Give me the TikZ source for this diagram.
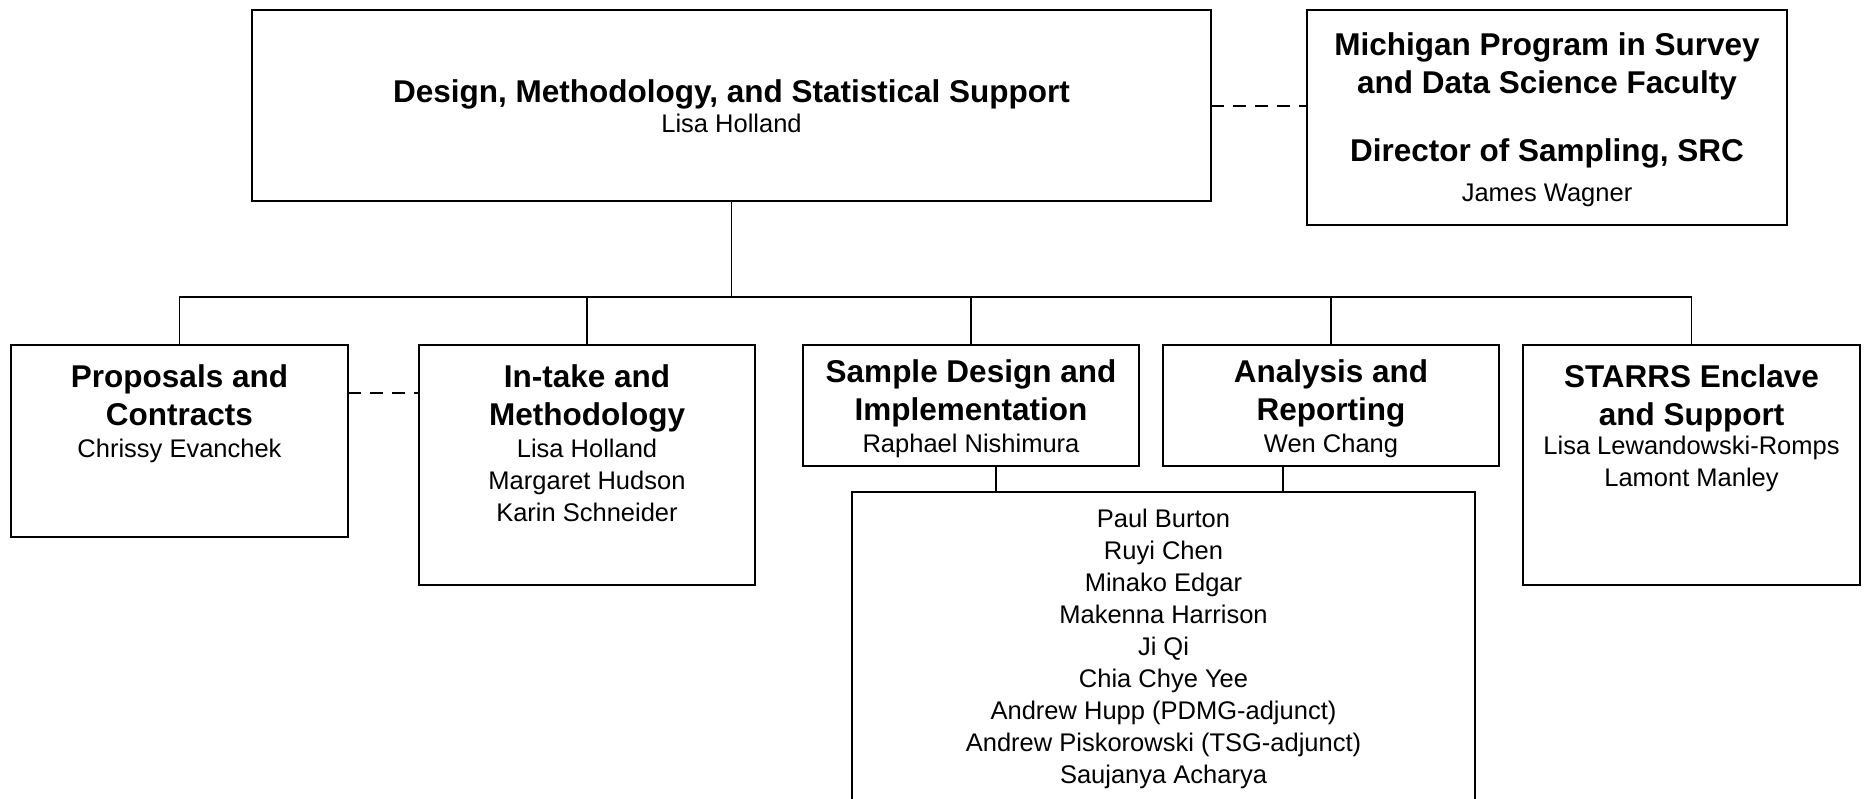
\documentclass[tikz,border=0pt]{standalone}
\usepackage{fontspec}
\setmainfont{Liberation Sans}
\begin{document}
\begin{tikzpicture}[x=1pt,y=-1pt,
  box/.style={draw, line width=1.8pt, inner sep=0pt, outer sep=0pt},
  conn/.style={line width=1.3pt},
  dashconn/.style={line width=1.3pt, dash pattern=on 13pt off 9pt},
  ttl/.style={font=\fontsize{31.5}{38}\selectfont\bfseries, align=center, inner sep=0pt, anchor=north},
  nm/.style={font=\fontsize{25.5}{32}\selectfont, align=center, inner sep=0pt, anchor=north}]
\useasboundingbox (0,0) rectangle (1866,798);
\clip (0,0) rectangle (1866,798);

% boxes
\node[box, minimum width=959pt, minimum height=191pt] (top) at (731.5,105.5) {};
\node[box, minimum width=480pt, minimum height=215pt] (right) at (1547,117.5) {};
\node[box, minimum width=337pt, minimum height=192pt] (b1) at (179.5,441) {};
\node[box, minimum width=336pt, minimum height=240pt] (b2) at (587,465) {};
\node[box, minimum width=336pt, minimum height=121pt] (b3) at (971,405.5) {};
\node[box, minimum width=336pt, minimum height=121pt] (b4) at (1331,405.5) {};
\node[box, minimum width=337pt, minimum height=240pt] (b5) at (1691.5,465) {};
\node[box, minimum width=623pt, minimum height=348pt] (bottom) at (1163.5,666) {};

% texts
\node[ttl] (topT) at (731.5,79) {Design, Methodology, and Statistical Support};
\node[nm] (topN) at (731.5,114) {Lisa Holland};

\node[ttl] (rightT) at (1547,32) {Michigan Program in Survey\\and Data Science Faculty};
\node[ttl] (rightT2) at (1547,138) {Director of Sampling, SRC};
\node[nm] (rightN) at (1547,184) {James Wagner};

\node[ttl] (b1T) at (179.5,364) {Proposals and\\Contracts};
\node[nm] (b1N) at (179.5,439) {Chrissy Evanchek};

\node[ttl] (b2T) at (587,364) {In-take and\\Methodology};
\node[nm] (b2N) at (587,439) {Lisa Holland\\Margaret Hudson\\Karin Schneider};

\node[ttl] (b3T) at (971,359) {Sample Design and\\Implementation};
\node[nm] (b3N) at (971,434) {Raphael Nishimura};

\node[ttl] (b4T) at (1331,359) {Analysis and\\Reporting};
\node[nm] (b4N) at (1331,434) {Wen Chang};

\node[ttl] (b5T) at (1691.5,364) {STARRS Enclave\\and Support};
\node[nm] (b5N) at (1691.5,436) {Lisa Lewandowski-Romps\\Lamont Manley};

\node[nm] (botN) at (1163.5,509) {Paul Burton\\Ruyi Chen\\Minako Edgar\\Makenna Harrison\\Ji Qi\\Chia Chye Yee\\Andrew Hupp (PDMG-adjunct)\\Andrew Piskorowski (TSG-adjunct)\\Saujanya Acharya};

% connectors
\coordinate (j) at (731.5,297);
\draw[conn] (top.south) -- (j);
\draw[conn] (b1.north) |- (j);
\draw[conn] (b2.north) |- (j);
\draw[conn] (b3.north) |- (j);
\draw[conn] (b4.north) |- (j);
\draw[conn] (b5.north) |- (j);

\coordinate (c3) at ([xshift=25pt]b3.south);
\coordinate (c4) at ([xshift=-48pt]b4.south);
\draw[conn] (c3) -- (c3 |- bottom.north);
\draw[conn] (c4) -- (c4 |- bottom.north);

\coordinate (d0) at (1211,106);
\draw[dashconn] (d0) -- (d0 -| right.west);
\coordinate (d1) at (348,393);
\draw[dashconn] (d1) -- (d1 -| b2.west);
\end{tikzpicture}
\end{document}
